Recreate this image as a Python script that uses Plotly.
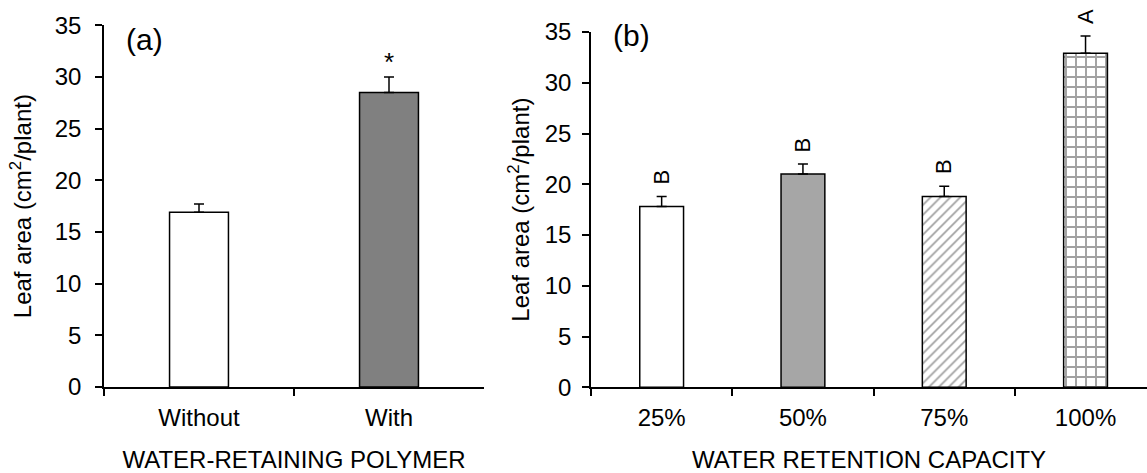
import plotly.graph_objects as go

# Panel (a) data
poly_cats = ["Without", "With"]
poly_vals = [16.9, 28.5]
poly_err = [0.8, 1.5]
poly_marks = ["", "*"]

# Panel (b) data
wrc_cats = ["25%", "50%", "75%", "100%"]
wrc_vals = [17.8, 21.0, 18.8, 32.9]
wrc_err = [1.0, 1.0, 1.0, 1.7]
wrc_marks = ["B", "B", "B", "A"]

y_ticks = [0, 5, 10, 15, 20, 25, 30, 35]

FONT = "Liberation Sans, Arial, sans-serif"
W, H = 1147, 473
TICK_SIZE = 24
TITLE_SIZE = 24

fig = go.Figure()

fig.add_trace(go.Bar(
    x=poly_cats, y=poly_vals, xaxis="x", yaxis="y", width=0.31,
    marker=dict(color=["#ffffff", "#808080"], line=dict(color="#000000", width=1.5)),
    error_y=dict(type="data", symmetric=False, array=poly_err,
                 arrayminus=[0] * len(poly_err), color="#000000", thickness=1.5, width=5),
    showlegend=False, hoverinfo="x+y",
))

fig.add_trace(go.Bar(
    x=wrc_cats, y=wrc_vals, xaxis="x2", yaxis="y2", width=0.31,
    marker=dict(
        color=["#ffffff", "#a6a6a6", "#ffffff", "#ffffff"],
        line=dict(color="#000000", width=1.5),
        pattern=dict(shape=["", "", "/", "+"],
                     fgcolor=["#000000", "#000000", "#707070", "#000000"],
                     bgcolor=["#ffffff", "#a6a6a6", "#ffffff", "#ececec"],
                     size=[8, 8, 7, 10], solidity=[0.2, 0.2, 0.25, 0.35]),
    ),
    error_y=dict(type="data", symmetric=False, array=wrc_err,
                 arrayminus=[0] * len(wrc_err), color="#000000", thickness=1.5, width=5),
    showlegend=False, hoverinfo="x+y",
))

annotations = []
for c, v, e, m in zip(poly_cats, poly_vals, poly_err, poly_marks):
    if m:
        annotations.append(dict(x=c, y=v + e, xref="x", yref="y", text=m, showarrow=False,
                                yanchor="bottom", yshift=-2, font=dict(size=26, family=FONT, color="#000")))
for c, v, e, m in zip(wrc_cats, wrc_vals, wrc_err, wrc_marks):
    annotations.append(dict(x=c, y=v + e, xref="x2", yref="y2", text=m, showarrow=False,
                            textangle=-90, yanchor="bottom", yshift=10,
                            font=dict(size=22, family=FONT, color="#000")))

annotations.append(dict(x=124 / W, y=1 - 40 / H, xref="paper", yref="paper", text="(a)",
                        showarrow=False, xanchor="left", yanchor="middle",
                        font=dict(size=30, family=FONT, color="#000")))
annotations.append(dict(x=611 / W, y=1 - 36 / H, xref="paper", yref="paper", text="(b)",
                        showarrow=False, xanchor="left", yanchor="middle",
                        font=dict(size=30, family=FONT, color="#000")))

axis_common = dict(showline=True, linecolor="#000000", linewidth=1.5, ticks="outside",
                   tickcolor="#000000", tickwidth=1.5, ticklen=7, showgrid=False, zeroline=False,
                   automargin=False,
                   tickfont=dict(size=TICK_SIZE, family=FONT, color="#000"))

fig.update_layout(
    width=W, height=H,
    margin=dict(l=0, r=0, t=0, b=0),
    paper_bgcolor="#ffffff", plot_bgcolor="#ffffff",
    font=dict(family=FONT, color="#000"),
    xaxis=dict(domain=[104 / W, 484 / W], type="category", range=[-0.5, 1.5],
               tickson="boundaries", anchor="y", ticklabelstandoff=8,
               title=dict(text="WATER-RETAINING POLYMER", font=dict(size=TITLE_SIZE, family=FONT), standoff=24),
               **axis_common),
    yaxis=dict(domain=[(H - 387) / H, (H - 25.3) / H], range=[0, 35], tickvals=y_ticks, anchor="x",
               ticklabelstandoff=9,
               title=dict(text="Leaf area (cm<sup>2</sup>/plant)", font=dict(size=TITLE_SIZE, family=FONT), standoff=16),
               **axis_common),
    xaxis2=dict(domain=[591 / W, 1.0], type="category", range=[-0.5, 3.435],
                tickson="boundaries", anchor="y2", ticklabelstandoff=8,
                title=dict(text="WATER RETENTION CAPACITY", font=dict(size=TITLE_SIZE, family=FONT), standoff=24),
                **axis_common),
    yaxis2=dict(domain=[(H - 387.3) / H, (H - 32) / H], range=[0, 35], tickvals=y_ticks, anchor="x2",
                ticklabelstandoff=6,
                title=dict(text="Leaf area (cm<sup>2</sup>/plant)", font=dict(size=TITLE_SIZE, family=FONT), standoff=8),
                **axis_common),
    annotations=annotations,
)

fig.write_html("out.html", config={"displayModeBar": False},
               post_script="document.body.style.margin='0';document.body.style.overflow='hidden';")
